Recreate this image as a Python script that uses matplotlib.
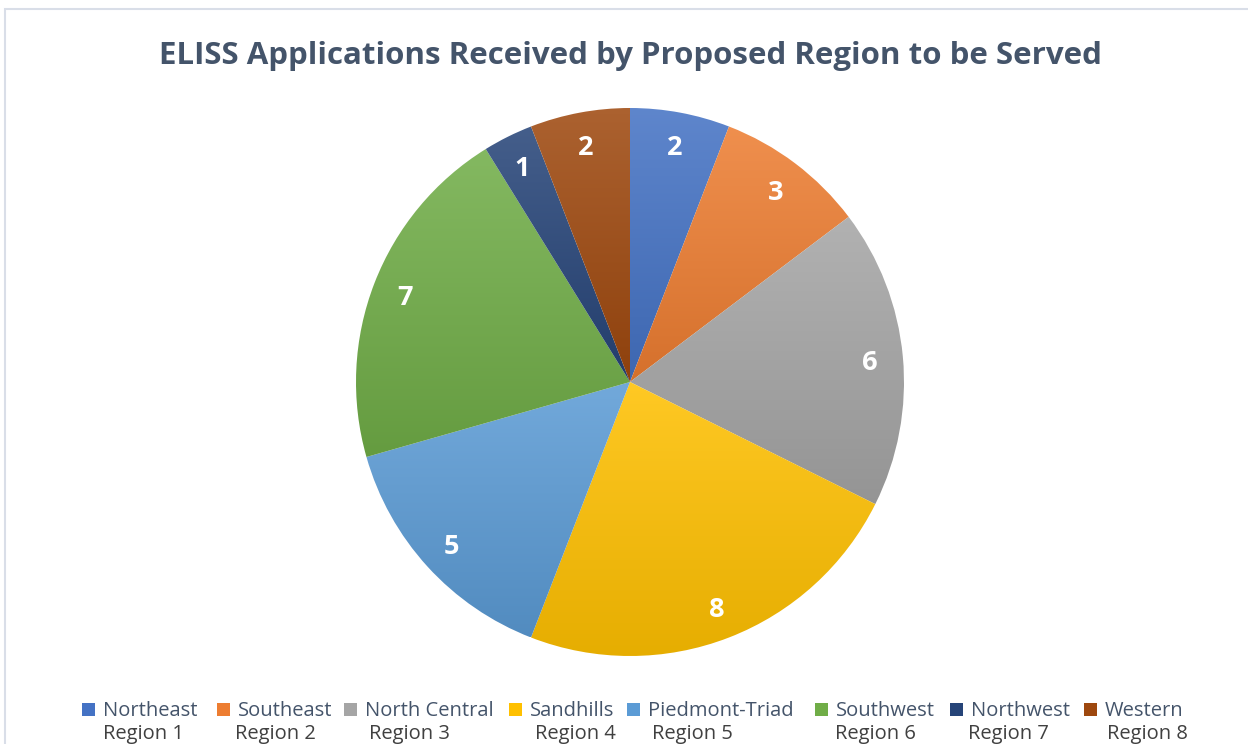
import numpy as np
import matplotlib
matplotlib.use("Agg")
import matplotlib.pyplot as plt
from matplotlib.colors import to_rgb, LinearSegmentedColormap
from matplotlib.patches import Rectangle

# --- Data ---
regions = ["Northeast", "Southeast", "North Central", "Sandhills",
           "Piedmont-Triad", "Southwest", "Northwest", "Western"]
region_nums = ["Region 1", "Region 2", "Region 3", "Region 4",
               "Region 5", "Region 6", "Region 7", "Region 8"]
applications = [2, 3, 6, 8, 5, 7, 1, 2]
colors = ["#4472C4", "#ED7D31", "#A5A5A5", "#FFC000",
          "#5B9BD5", "#70AD47", "#264478", "#9E480E"]

W, H = 1248, 744
fig = plt.figure(figsize=(W / 100, H / 100), dpi=100)

# light chart frame
fig.patches.append(Rectangle((5 / W, -0.1), 1.2, 1 - 9 / H + 0.1, transform=fig.transFigure,
                             fill=False, edgecolor="#D9DEE8", linewidth=1.5, figure=fig))

# pie axes: centre (630, 382), radius 274 px
cx, cy, r = 630, 382, 274
ax = fig.add_axes([(cx - r) / W, (H - cy - r) / H, 2 * r / W, 2 * r / H])

wedges, texts = ax.pie(applications, colors=colors, startangle=90, counterclock=False,
                       labels=[str(v) for v in applications], labeldistance=0.88,
                       wedgeprops=dict(linewidth=0))
for t in texts:
    t.set_color("white")
    t.set_fontsize(19.5)
    t.set_fontweight("bold")
    t.set_ha("center")
    t.set_va("center_baseline")
    t.set_family("Open Sans")
    t.set_zorder(3)

# gradient fill per slice (lighter at top, darker at bottom)
for w, c in zip(wedges, colors):
    base = np.array(to_rgb(c))
    top = base + (1 - base) * 0.14
    bot = base * 0.9
    cmap = LinearSegmentedColormap.from_list("g", [bot, top])
    v = w.get_path().vertices
    y0, y1 = v[:, 1].min(), v[:, 1].max()
    grad = np.linspace(0, 1, 256).reshape(-1, 1)
    im = ax.imshow(grad, cmap=cmap, extent=[-1.05, 1.05, y0, y1], origin="lower",
                   aspect="auto", zorder=1.5)
    im.set_clip_path(w)
    w.set_facecolor("none")

ax.set_xlim(-1, 1)
ax.set_ylim(-1, 1)
ax.set_aspect("equal")
ax.axis("off")

fig.text(630 / W, 1 - 56 / H, "ELISS Applications Received by Proposed Region to be Served",
         ha="center", va="center", fontsize=22.5, fontweight="bold", color="#44546A",
         family="Open Sans")

# legend: square key + name, region number underneath
key_x = [82, 217, 344, 509, 627, 815, 950, 1084]
region_x = [103, 235, 369, 535, 652, 835, 968, 1107]
sq = 13
for kx, rx, name, num, c in zip(key_x, region_x, regions, region_nums, colors):
    fig.patches.append(Rectangle((kx / W, (H - 709 - sq / 2) / H), sq / W, sq / H,
                                 transform=fig.transFigure, facecolor=c, edgecolor="none",
                                 figure=fig))
    fig.text((kx + 21) / W, 1 - 709 / H, name, ha="left", va="center_baseline",
             fontsize=14.5, color="#44546A", family="Open Sans")
    fig.text(rx / W, 1 - 732 / H, num, ha="left", va="center_baseline",
             fontsize=14.5, color="#404040", family="Open Sans")

fig.savefig("out.png", dpi=100)
